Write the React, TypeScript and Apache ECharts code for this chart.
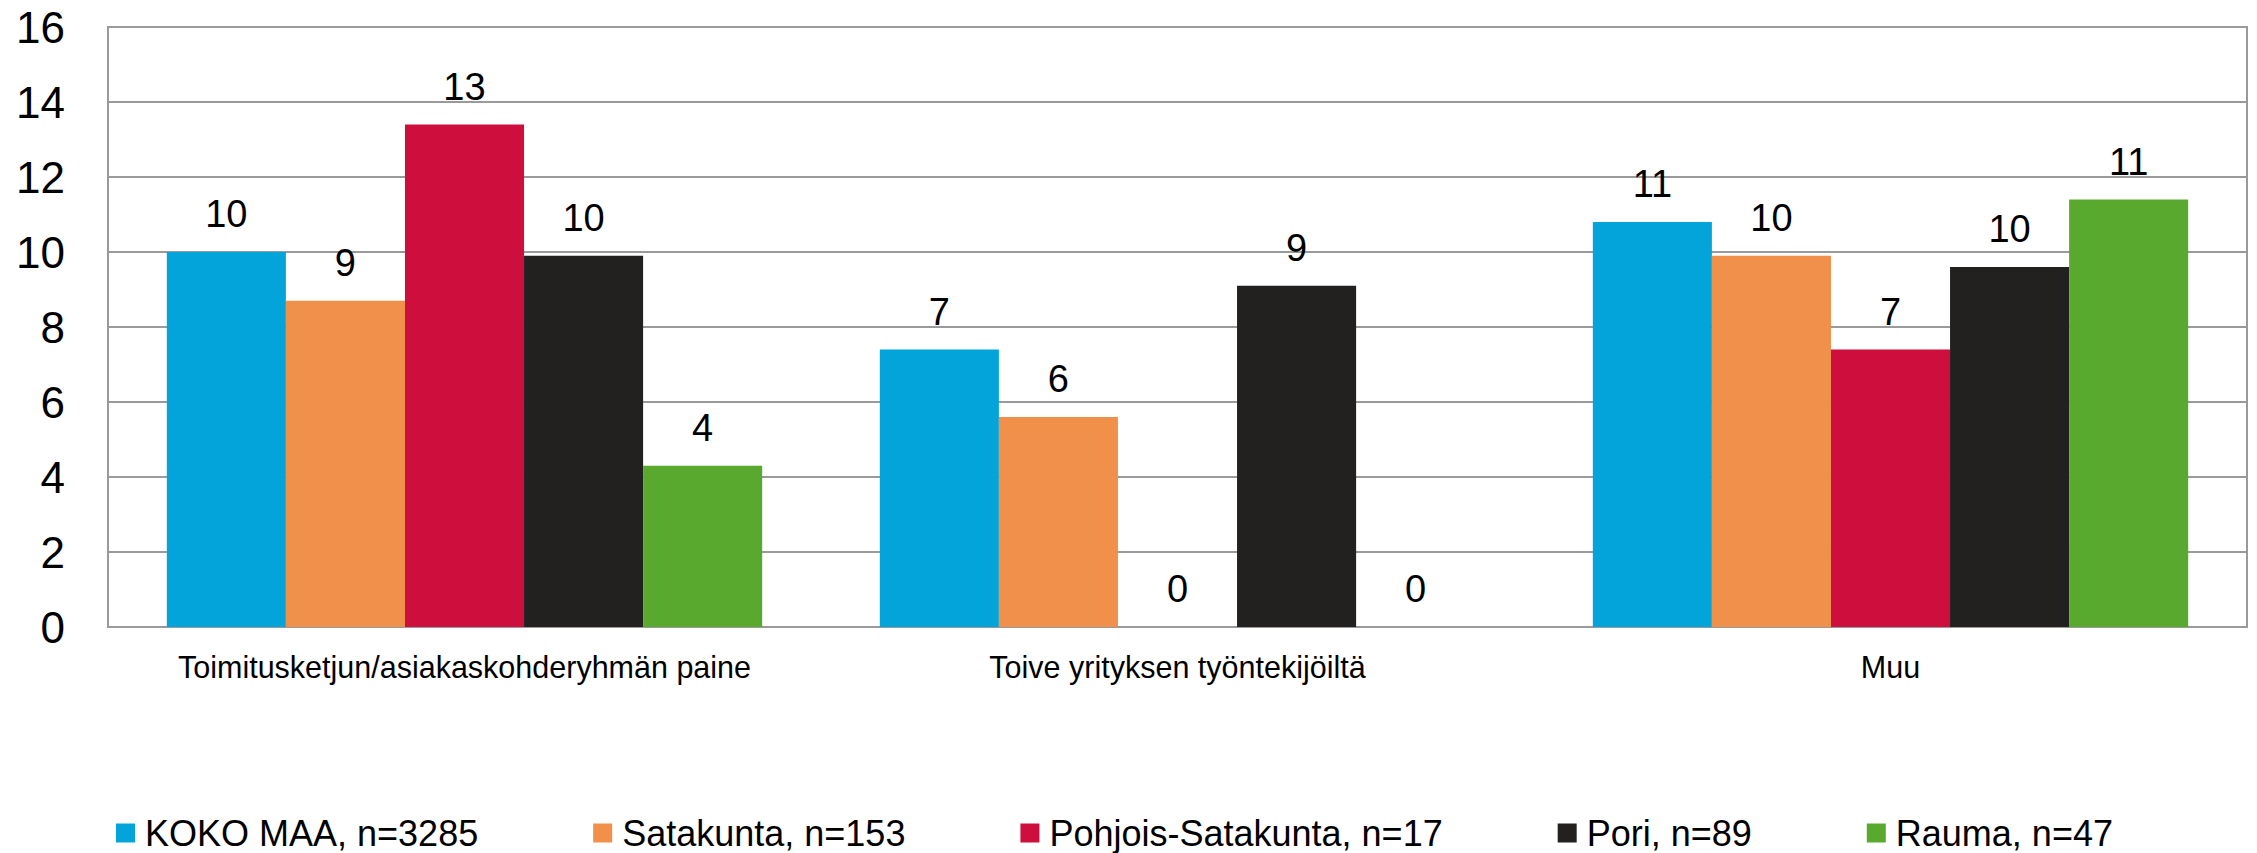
import React, { useEffect, useRef } from "react";
import * as echarts from "echarts";

const categories = [
  "Toimitusketjun/asiakaskohderyhmän paine",
  "Toive yrityksen työntekijöiltä",
  "Muu",
];
const seriesNames = [
  "KOKO MAA, n=3285",
  "Satakunta, n=153",
  "Pohjois-Satakunta, n=17",
  "Pori, n=89",
  "Rauma, n=47",
];
const kokoMaa = [10.0, 7.4, 10.8];
const satakunta = [8.7, 5.6, 9.9];
const pohjoisSatakunta = [13.4, 0, 7.4];
const pori = [9.9, 9.1, 9.6];
const rauma = [4.3, 0, 11.4];
const colors = ["#03A4D9", "#F0904A", "#CE0F3D", "#222120", "#58A92D"];
const yTicks = { min: 0, max: 16, interval: 2 };

const FONT = "'Liberation Sans', Arial, Helvetica, sans-serif";

export default function App() {
  const ref = useRef<HTMLDivElement>(null);
  useEffect(() => {
    document.body.style.margin = "0";
    const chart = echarts.init(ref.current!, null, { renderer: "svg" });
    const allValues = [kokoMaa, satakunta, pohjoisSatakunta, pori, rauma];
    chart.setOption({
      animation: false,
      color: colors,
      textStyle: { fontFamily: FONT, color: "#000" },
      grid: {
        left: 108,
        right: 10,
        top: 27,
        bottom: 226,
        show: true,
        borderColor: "#9a9a9a",
        borderWidth: 2,
        backgroundColor: "transparent",
      },
      legend: {
        data: seriesNames,
        left: 116,
        top: 814,
        padding: 0,
        itemWidth: 19,
        itemHeight: 19,
        itemGap: 115,
        icon: "rect",
        textStyle: {
          fontFamily: FONT,
          fontSize: 36,
          color: "#000",
          lineHeight: 38,
          padding: [0, 0, 0, 5],
        },
      },
      xAxis: {
        type: "category",
        data: categories,
        axisTick: { show: false },
        axisLine: { show: true, lineStyle: { color: "#9a9a9a", width: 2 } },
        axisLabel: {
          fontFamily: FONT,
          fontSize: 30.5,
          color: "#000",
          margin: 24,
          interval: 0,
        },
      },
      yAxis: {
        type: "value",
        min: yTicks.min,
        max: yTicks.max,
        interval: yTicks.interval,
        axisLine: { show: true, lineStyle: { color: "#9a9a9a", width: 2 } },
        axisTick: { show: false },
        splitLine: { show: true, lineStyle: { color: "#9a9a9a", width: 2 } },
        axisLabel: {
          fontFamily: FONT,
          fontSize: 44,
          color: "#000",
          margin: 43,
        },
      },
      series: seriesNames.map((name, i) => ({
        name,
        type: "bar",
        data: allValues[i],
        barGap: "0%",
        barCategoryGap: "16.5%",
        itemStyle: { color: colors[i] },
        label: {
          show: true,
          position: "top",
          distance: 19,
          fontFamily: FONT,
          fontSize: 38,
          color: "#000",
          formatter: (p: any) => String(Math.round(p.value)),
        },
      })),
    });
    return () => chart.dispose();
  }, []);
  return (
    <div
      ref={ref}
      style={{ position: "absolute", left: 0, top: 0, width: 2257, height: 853 }}
    />
  );
}
